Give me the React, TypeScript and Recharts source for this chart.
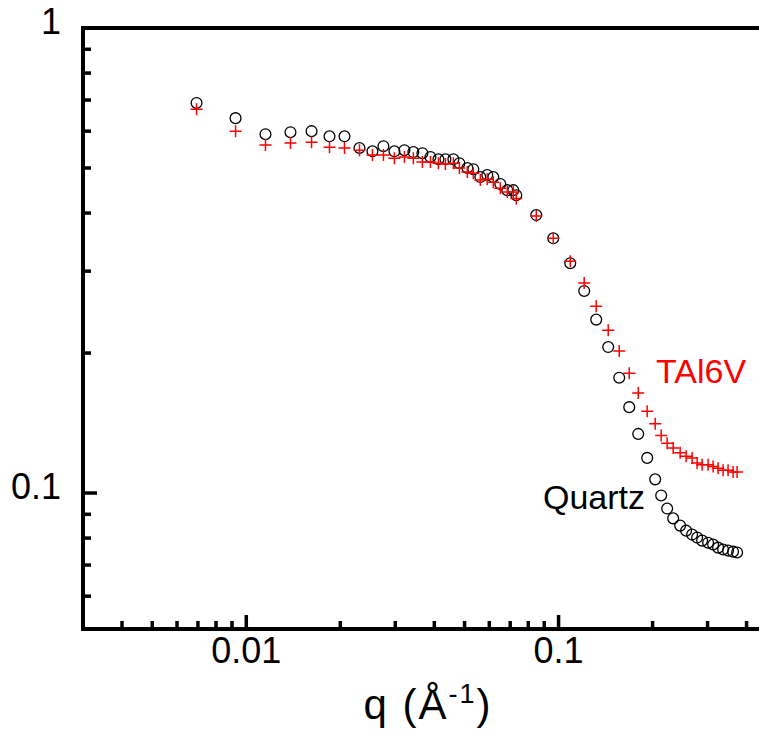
import { ReferenceLine, Scatter, ScatterChart, XAxis, YAxis } from "recharts";

const FONT = "'Liberation Sans', Arial, Helvetica, sans-serif";

// q grid (Å^-1), shared by both samples
const q = [
  0.00693, 0.00924, 0.01152, 0.01385, 0.01618, 0.01847, 0.02063, 0.02304,
  0.02535, 0.02749, 0.02981, 0.03209, 0.03428, 0.03664, 0.03888, 0.04124,
  0.04342, 0.04604, 0.04813, 0.05104, 0.05334, 0.05617, 0.05912, 0.0618,
  0.06507, 0.06852, 0.07162, 0.07322, 0.08485, 0.09617, 0.109, 0.1208,
  0.132, 0.1442, 0.1564, 0.1684, 0.1799, 0.1922, 0.2039, 0.2131, 0.2227,
  0.2328, 0.2451, 0.2561, 0.2677, 0.2778, 0.2882, 0.3012, 0.3125, 0.3242,
  0.3364, 0.349, 0.3621, 0.373,
];

const quartz = [
  0.69, 0.64, 0.591, 0.597, 0.6, 0.585, 0.585, 0.552, 0.543, 0.557, 0.543,
  0.546, 0.541, 0.538, 0.528, 0.522, 0.522, 0.522, 0.512, 0.5, 0.497, 0.478,
  0.483, 0.478, 0.462, 0.448, 0.448, 0.437, 0.396, 0.353, 0.312, 0.272,
  0.236, 0.206, 0.177, 0.153, 0.134, 0.119, 0.107, 0.0988, 0.0926, 0.0882,
  0.0851, 0.083, 0.0814, 0.0802, 0.079, 0.0782, 0.0775, 0.0763, 0.0756,
  0.0752, 0.0748, 0.0745,
];

const tal6v = [
  0.669, 0.6, 0.56, 0.566, 0.568, 0.554, 0.552, 0.546, 0.533, 0.533, 0.525,
  0.528, 0.525, 0.515, 0.515, 0.512, 0.51, 0.512, 0.5, 0.49, 0.487, 0.471,
  0.473, 0.466, 0.452, 0.444, 0.444, 0.43, 0.394, 0.353, 0.315, 0.283,
  0.252, 0.224, 0.202, 0.181, 0.164, 0.15, 0.141, 0.133, 0.128, 0.125,
  0.122, 0.12, 0.119, 0.116, 0.115, 0.115, 0.114, 0.113, 0.112, 0.112,
  0.111, 0.111,
];

const xMajor = [0.01, 0.1];
const xMinor = [
  0.004, 0.005, 0.006, 0.007, 0.008, 0.009, 0.02, 0.03, 0.04, 0.05, 0.06,
  0.07, 0.08, 0.09, 0.2, 0.3, 0.4,
];
const yMajor = [0.1, 1];
const yMinor = [
  0.06, 0.07, 0.08, 0.09, 0.2, 0.3, 0.4, 0.5, 0.6, 0.7, 0.8, 0.9,
];

const quartzData = q.map((x, i) => ({ q: x, v: quartz[i] }));
const tal6vData = q.map((x, i) => ({ q: x, v: tal6v[i] }));

function XTick({ x, y, payload }: any) {
  const major = xMajor.includes(payload.value);
  return (
    <g>
      <line x1={x} y1={y} x2={x} y2={y - (major ? 14 : 8)} stroke="#000" strokeWidth={3.5} />
      {major && (
        <text x={x} y={y + 34} textAnchor="middle" fontSize={36} fontFamily={FONT} fill="#000">
          {String(payload.value)}
        </text>
      )}
    </g>
  );
}

function YTick({ x, y, payload }: any) {
  const major = yMajor.includes(payload.value);
  return (
    <g>
      <line x1={x} y1={y} x2={x + (major ? 14 : 8)} y2={y} stroke="#000" strokeWidth={3.5} />
      {major && (
        <text x={x - 22} y={y + 6} textAnchor="end" fontSize={36} fontFamily={FONT} fill="#000">
          {String(payload.value)}
        </text>
      )}
    </g>
  );
}

const circle = (p: any) => (
  <circle cx={p.cx} cy={p.cy} r={5.4} fill="none" stroke="#000" strokeWidth={1.3} />
);

const cross = (p: any) => (
  <path
    d={`M${p.cx - 6},${p.cy}H${p.cx + 6}M${p.cx},${p.cy - 6}V${p.cy + 6}`}
    stroke="#ff0000"
    strokeWidth={1.5}
    fill="none"
  />
);

export default function App() {
  // negative margins cancel the body's top/bottom margin so the chart fills the window height
  return (
    <div style={{ position: "relative", width: 759, height: 737, marginTop: -8, marginBottom: -8 }}>
      <ScatterChart width={759} height={737} margin={{ top: 28, right: 0, bottom: 0, left: 0 }}>
        <XAxis
          dataKey="q"
          type="number"
          scale="log"
          domain={[0.003, 0.465]}
          allowDataOverflow
          ticks={[...xMinor, ...xMajor]}
          interval={0}
          tick={<XTick />}
          tickLine={false}
          tickSize={0}
          tickMargin={0}
          height={108}
          axisLine={{ stroke: "#000", strokeWidth: 4, strokeLinecap: "square" }}
        />
        <YAxis
          dataKey="v"
          type="number"
          scale="log"
          domain={[0.051, 1]}
          allowDataOverflow
          ticks={[...yMinor, ...yMajor]}
          interval={0}
          tick={<YTick />}
          tickLine={false}
          tickSize={0}
          tickMargin={0}
          width={75}
          axisLine={{ stroke: "#000", strokeWidth: 4, strokeLinecap: "square" }}
        />
        <ReferenceLine y={1} stroke="#000" strokeWidth={4} />
        <Scatter name="Quartz" data={quartzData} shape={circle} isAnimationActive={false} />
        <Scatter name="TAl6V" data={tal6vData} shape={cross} isAnimationActive={false} />
      </ScatterChart>
      <svg
        width={759}
        height={737}
        style={{ position: "absolute", left: 0, top: 0, pointerEvents: "none" }}
      >
        <text x={648} y={383} fontSize={34} fontFamily={FONT} fill="#ff0000">
          TAl6V
        </text>
        <text x={535} y={509} fontSize={34} fontFamily={FONT} fill="#000">
          Quartz
        </text>
        <text
          x={420}
          y={719}
          textAnchor="middle"
          fontSize={42}
          letterSpacing={2}
          fontFamily={FONT}
          fill="#000"
        >
          q (Å
          <tspan fontSize={27} dy={-16}>
            -1
          </tspan>
          <tspan dy={16}>)</tspan>
        </text>
      </svg>
    </div>
  );
}
